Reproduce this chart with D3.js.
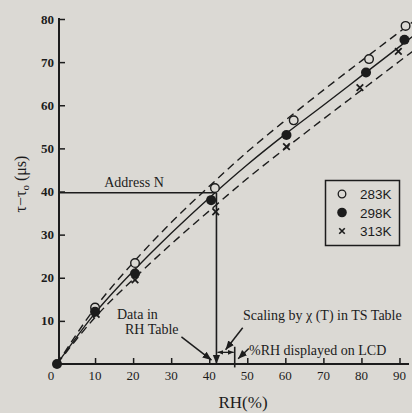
<!DOCTYPE html>
<html>
<head>
<meta charset="utf-8">
<script src="https://cdn.jsdelivr.net/npm/d3@7"></script>
<style>
  body { margin: 0; background: #dbd9d4; }
  svg { display: block; }
  text { fill: #1c1c1c; }
</style>
</head>
<body>
<script>
// measured points
const rh283 = [10, 20.5, 41.5, 62.2, 82, 91.6];
const val283 = [13.1, 23.4, 40.8, 56.5, 70.7, 78.4];
const rh298 = [0, 10, 20.5, 40.5, 60.3, 81.2, 91.3];
const val298 = [0, 12.1, 21.0, 38.0, 53.1, 67.6, 75.2];
const rh313 = [10.3, 20.5, 41.7, 60.3, 79.6, 89.7];
const val313 = [11.5, 19.5, 35.3, 50.4, 64.1, 72.5];

// fitted curve + error band
const fitRH = [0, 10, 20, 30, 40, 50, 60, 70, 80, 90, 96];
const fitMid = [0, 11.8, 21.5, 30.3, 38.5, 46.2, 53.3, 60, 66.8, 73.6, 77.7];
const fitUpper = [0, 13, 23.5, 32.8, 41.2, 49.2, 56.5, 63.5, 70.3, 77, 81];
const fitLower = [0, 10.8, 19.6, 27.8, 35.5, 43, 50, 56.8, 63.5, 70.2, 74.2];

const xTicks = [10, 20, 30, 40, 50, 60, 70, 80, 90];
const xTickLabels = ['10', '20', '30', '40', '50', '60', '70', '80', '90'];
const yTicks = [10, 20, 30, 40, 50, 60, 70, 80];
const legendLabels = ['283K', '298K', '313K'];

// annotation anchors (RH, value)
const addressN = [41.9, 39.7];
const lcdRH = 46.7;

const W = 412, H = 413;
const ink = '#1c1c1c';

const svg = d3.select('body').append('svg')
  .attr('width', W)
  .attr('height', H);

const x = d3.scaleLinear().domain([0, 90]).range([57, 399.5]);
const y = d3.scaleLinear().domain([0, 80]).range([364, 19]);

const defs = svg.append('defs');
defs.append('marker')
  .attr('id', 'head')
  .attr('viewBox', '0 0 10 10')
  .attr('refX', 10).attr('refY', 5)
  .attr('markerWidth', 9).attr('markerHeight', 9)
  .attr('markerUnits', 'userSpaceOnUse')
  .attr('orient', 'auto-start-reverse')
  .append('path')
  .attr('d', 'M0,1 L10,5 L0,9 Z')
  .attr('fill', ink);
defs.append('marker')
  .attr('id', 'small')
  .attr('viewBox', '0 0 10 10')
  .attr('refX', 10).attr('refY', 5)
  .attr('markerWidth', 6).attr('markerHeight', 6)
  .attr('markerUnits', 'userSpaceOnUse')
  .attr('orient', 'auto-start-reverse')
  .append('path')
  .attr('d', 'M0,1 L10,5 L0,9 Z')
  .attr('fill', ink);

// axes
const xAxis = svg.append('g')
  .attr('transform', `translate(0,${y(0)})`)
  .call(d3.axisTop(x).tickValues(xTicks).tickSize(6).tickFormat(''));
xAxis.select('.domain').remove();
xAxis.selectAll('line').attr('stroke', ink).attr('stroke-width', 1.5);
xAxis.append('line')
  .attr('x1', x(0)).attr('x2', x(92.5))
  .attr('stroke', ink).attr('stroke-width', 2);

const yAxis = svg.append('g')
  .attr('transform', `translate(${x(0) + 2},0)`)
  .call(d3.axisRight(y).tickValues(yTicks).tickSize(6).tickFormat(''));
yAxis.select('.domain').remove();
yAxis.selectAll('line').attr('stroke', ink).attr('stroke-width', 1.5);
yAxis.append('line')
  .attr('y1', y(0)).attr('y2', y(80) - 1)
  .attr('stroke', ink).attr('stroke-width', 2);

svg.append('g').selectAll('text').data(xTicks)
  .join('text')
  .attr('x', d => x(d))
  .attr('y', 380)
  .attr('text-anchor', 'middle')
  .attr('font-family', 'Liberation Serif, serif')
  .attr('font-size', 13)
  .text((d, i) => xTickLabels[i]);

svg.append('text')
  .attr('x', x(0) - 6).attr('y', 380)
  .attr('text-anchor', 'middle')
  .attr('font-family', 'Liberation Serif, serif')
  .attr('font-size', 13)
  .text('0');

svg.append('g').selectAll('text').data(yTicks)
  .join('text')
  .attr('x', 54)
  .attr('y', d => y(d) + 4.5)
  .attr('text-anchor', 'end')
  .attr('font-family', 'Liberation Serif, serif')
  .attr('font-weight', 'bold')
  .attr('font-size', 13)
  .text(d => d);

svg.append('text')
  .attr('x', 243).attr('y', 408)
  .attr('text-anchor', 'middle')
  .attr('font-family', 'Liberation Serif, serif')
  .attr('font-size', 17)
  .text('RH(%)');

const yTitle = svg.append('text')
  .attr('transform', 'translate(26,184) rotate(-90)')
  .attr('text-anchor', 'middle')
  .attr('font-family', 'Liberation Serif, serif')
  .attr('font-size', 16);
yTitle.append('tspan').text('τ−τ');
yTitle.append('tspan').attr('font-size', 11).attr('dy', 3).text('o');
yTitle.append('tspan').attr('dy', -3).text(' (μs)');

// curves
const line = d3.line()
  .x(d => x(d[0]))
  .y(d => y(d[1]))
  .curve(d3.curveMonotoneX);

const curves = [
  { vals: fitMid, dash: null },
  { vals: fitUpper, dash: '8,5' },
  { vals: fitLower, dash: '8,5' }
];
svg.append('g').selectAll('path').data(curves)
  .join('path')
  .attr('d', c => line(fitRH.map((r, i) => [r, c.vals[i]])))
  .attr('fill', 'none')
  .attr('stroke', ink)
  .attr('stroke-width', 1.4)
  .attr('stroke-dasharray', c => c.dash);

// annotation lines
svg.append('line')
  .attr('x1', x(0) + 2).attr('y1', y(addressN[1]))
  .attr('x2', x(addressN[0])).attr('y2', y(addressN[1]))
  .attr('stroke', ink).attr('stroke-width', 1.6);
svg.append('line')
  .attr('x1', x(addressN[0])).attr('y1', y(addressN[1]))
  .attr('x2', x(addressN[0])).attr('y2', y(0))
  .attr('stroke', ink).attr('stroke-width', 1.6)
  .attr('marker-end', 'url(#head)');
svg.append('line')
  .attr('x1', x(lcdRH)).attr('y1', y(4))
  .attr('x2', x(lcdRH)).attr('y2', y(-0.8))
  .attr('stroke', ink).attr('stroke-width', 1.6);
svg.append('line')
  .attr('x1', x(addressN[0]) + 1).attr('y1', y(2.7))
  .attr('x2', x(lcdRH) - 1).attr('y2', y(2.7))
  .attr('stroke', ink).attr('stroke-width', 1.3)
  .attr('marker-start', 'url(#small)')
  .attr('marker-end', 'url(#small)');

const arrows = [
  [[32.7, 6.3], [40.6, 0.9]],
  [[48.8, 8.4], [44.3, 3.3]],
  [[50.4, 3.6], [47.6, 1.2]]
];
svg.append('g').selectAll('line').data(arrows)
  .join('line')
  .attr('x1', d => x(d[0][0])).attr('y1', d => y(d[0][1]))
  .attr('x2', d => x(d[1][0])).attr('y2', d => y(d[1][1]))
  .attr('stroke', ink).attr('stroke-width', 1.5)
  .attr('marker-end', 'url(#head)');

// points
svg.append('g').selectAll('circle').data(rh283)
  .join('circle')
  .attr('cx', d => x(d))
  .attr('cy', (d, i) => y(val283[i]))
  .attr('r', 4.3)
  .attr('fill', '#dbd9d4')
  .attr('stroke', ink)
  .attr('stroke-width', 1.4);

svg.append('g').selectAll('circle').data(rh298)
  .join('circle')
  .attr('cx', d => x(d))
  .attr('cy', (d, i) => y(val298[i]))
  .attr('r', 5)
  .attr('fill', ink);

const cross = d3.symbol().type(d3.symbolX).size(30);
svg.append('g').selectAll('path').data(rh313)
  .join('path')
  .attr('transform', (d, i) => `translate(${x(d)},${y(val313[i])})`)
  .attr('d', cross)
  .attr('stroke', ink)
  .attr('stroke-width', 1.8)
  .attr('fill', 'none');

// text labels
const serif = t => t
  .attr('font-family', 'Liberation Serif, serif')
  .attr('font-size', 14);

svg.append('text').attr('x', 134).attr('y', 187).attr('text-anchor', 'middle')
  .call(serif).text('Address N');
svg.append('text').attr('x', 117).attr('y', 319)
  .call(serif).text('Data in');
svg.append('text').attr('x', 125).attr('y', 334)
  .call(serif).text('RH Table');
svg.append('text').attr('x', 243).attr('y', 320)
  .call(serif).text('Scaling by χ (T) in TS Table');
svg.append('text').attr('x', 249).attr('y', 355)
  .call(serif).text('%RH displayed on LCD');

// legend
const lg = svg.append('g');
lg.append('rect')
  .attr('x', 325.5).attr('y', 180.5)
  .attr('width', 74).attr('height', 65)
  .attr('fill', 'none')
  .attr('stroke', ink)
  .attr('stroke-width', 1.5);
const rowY = [194, 212.5, 231];
lg.append('circle').attr('cx', 342).attr('cy', rowY[0]).attr('r', 3.8)
  .attr('fill', 'none').attr('stroke', ink).attr('stroke-width', 1.3);
lg.append('circle').attr('cx', 342).attr('cy', rowY[1]).attr('r', 4.8)
  .attr('fill', ink);
lg.append('path').attr('transform', `translate(342,${rowY[2]})`)
  .attr('d', d3.symbol().type(d3.symbolX).size(22))
  .attr('stroke', ink).attr('stroke-width', 1.6);
lg.selectAll('text').data(legendLabels)
  .join('text')
  .attr('x', 360)
  .attr('y', (d, i) => rowY[i] + 5)
  .attr('font-family', 'Liberation Sans, Arial, sans-serif')
  .attr('font-size', 13.5)
  .text(d => d);
</script>
</body>
</html>
